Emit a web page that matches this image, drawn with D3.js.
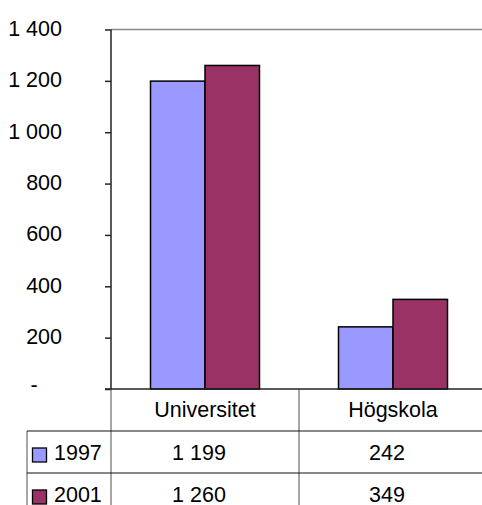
<!DOCTYPE html>
<html>
<head>
<meta charset="utf-8">
<script src="https://cdn.jsdelivr.net/npm/d3@7"></script>
<style>
	body { margin: 0; background: #fff; }
	svg text { font-family: Arial, 'Liberation Sans', sans-serif; font-size: 21.5px; fill: #000; }
</style>
</head>
<body>
<svg id="chart" width="482" height="505"></svg>
<script>

var categories = ['Universitet', 'Högskola']
var years = ['1997', '2001']
var values1997 = [1199, 242]
var values2001 = [1260, 349]
var yTicks = [0, 200, 400, 600, 800, 1000, 1200, 1400]
var colors = ['#9999ff', '#993366']

var series = [values1997, values2001]

var fmt = d3.formatLocale({ decimal: ',', thousands: ' ', grouping: [3], currency: ['', ''] }).format(',d')

var svg = d3.select('#chart')

var plotLeft = 111, plotRight = 487, plotTop = 29.5, base = 389
var rowH = 42

var x = d3.scaleBand()
	.domain(categories)
	.range([plotLeft, plotRight])

var xs = d3.scaleBand()
	.domain(years)
	.range([0, x.bandwidth()])
	.paddingOuter(0.725)

var y = d3.scaleLinear()
	.domain([0, 1400])
	.range([base, plotTop])

// top gridline
svg.append('line')
	.attr('x1', plotLeft).attr('x2', 482)
	.attr('y1', y(1400)).attr('y2', y(1400))
	.attr('stroke', '#888')
	.attr('stroke-width', 1.5)

// bars
var groups = svg.selectAll('.cat')
	.data(categories)
	.enter().append('g')
	.attr('class', 'cat')
	.attr('transform', d => 'translate(' + x(d) + ',0)')

groups.selectAll('rect')
	.data((d, i) => years.map((yr, j) => ({ year: yr, value: series[j][i], j: j })))
	.enter().append('rect')
	.attr('x', d => xs(d.year))
	.attr('y', d => y(d.value))
	.attr('width', xs.bandwidth())
	.attr('height', d => base - y(d.value))
	.attr('fill', d => colors[d.j])
	.attr('stroke', '#000')
	.attr('stroke-width', 1.5)

// y axis
var yAxis = svg.append('g')
	.attr('transform', 'translate(' + plotLeft + ',0)')
	.call(d3.axisLeft(y)
		.tickValues(yTicks)
		.tickSize(6)
		.tickPadding(43)
		.tickFormat(d => d == 0 ? '-' : fmt(d)))

yAxis.attr('font-family', null).attr('font-size', null)
yAxis.select('.domain').remove()
yAxis.selectAll('.tick line').attr('stroke', '#222').attr('stroke-width', 1.5)
yAxis.selectAll('.tick text').attr('dy', '0.28em')
yAxis.selectAll('.tick text').filter(d => d == 0)
	.attr('text-anchor', 'middle')
	.attr('x', 34 - plotLeft)
	.attr('dy', '0.1em')

// table lines
var grey = '#888'
svg.append('line')
	.attr('x1', plotLeft).attr('x2', plotLeft)
	.attr('y1', plotTop).attr('y2', base)
	.attr('stroke', '#222').attr('stroke-width', 1.5)
svg.append('line')
	.attr('x1', plotLeft).attr('x2', plotLeft)
	.attr('y1', base).attr('y2', 505)
	.attr('stroke', grey).attr('stroke-width', 1.5)
svg.append('line')
	.attr('x1', x(categories[1])).attr('x2', x(categories[1]))
	.attr('y1', base).attr('y2', 505)
	.attr('stroke', grey).attr('stroke-width', 1.5)
svg.append('line')
	.attr('x1', 27).attr('x2', 27)
	.attr('y1', base + rowH).attr('y2', 505)
	.attr('stroke', grey).attr('stroke-width', 1.5)

svg.selectAll('.hline')
	.data([base + rowH, base + 2 * rowH])
	.enter().append('line')
	.attr('class', 'hline')
	.attr('x1', 27).attr('x2', 482)
	.attr('y1', d => d).attr('y2', d => d)
	.attr('stroke', '#111').attr('stroke-width', 1)

// zero axis
svg.append('line')
	.attr('x1', plotLeft - 6).attr('x2', 482)
	.attr('y1', base).attr('y2', base)
	.attr('stroke', '#222').attr('stroke-width', 1.5)

// category labels
svg.selectAll('.catlabel')
	.data(categories)
	.enter().append('text')
	.attr('class', 'catlabel')
	.attr('x', d => x(d) + x.bandwidth() / 2)
	.attr('y', base + 27.5)
	.attr('text-anchor', 'middle')
	.text(d => d)

// rows
var rows = svg.selectAll('.row')
	.data(years)
	.enter().append('g')
	.attr('class', 'row')
	.attr('transform', (d, i) => 'translate(0,' + (base + rowH * (i + 1)) + ')')

rows.append('rect')
	.attr('x', 32.5)
	.attr('y', 17)
	.attr('width', 14)
	.attr('height', 14)
	.attr('fill', (d, i) => colors[i])
	.attr('stroke', '#000')
	.attr('stroke-width', 1.3)

rows.append('text')
	.attr('x', 54)
	.attr('y', 29)
	.text(d => d)

rows.selectAll('.val')
	.data((d, i) => series[i])
	.enter().append('text')
	.attr('class', 'val')
	.attr('x', (d, i) => x(categories[i]) + x.bandwidth() / 2 - 6)
	.attr('y', 28.5)
	.attr('text-anchor', 'middle')
	.text(d => fmt(d))

</script>
</body>
</html>
